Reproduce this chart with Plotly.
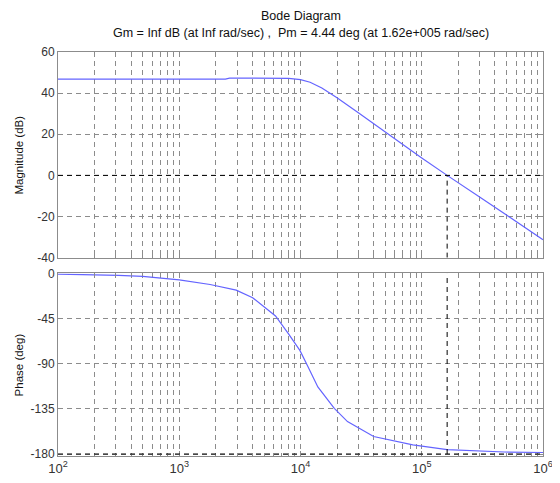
import plotly.graph_objects as go

# ---- data ----
freq_mag = [100, 300, 1000, 2400, 2600, 5000, 8000, 10000, 12000, 15000, 20000,
            30000, 50000, 100000, 162000, 200000, 300000, 500000, 1000000]
mag_db = [46.8, 46.8, 46.8, 46.8, 47.3, 47.3, 47.2, 46.6, 45.3, 42.5, 37.8,
          30.5, 21.0, 8.5, 0.0, -3.5, -10.5, -19.3, -31.3]

freq_phase = [100, 200, 316, 500, 852, 1000, 1795, 2950, 4030, 5160, 6220, 7970,
              9910, 11560, 13900, 19000, 24400, 40100, 84400, 162000, 292000,
              480000, 1000000]
phase_deg = [-0.3, -0.8, -1.4, -2.5, -5.0, -6.0, -10.6, -16.2, -23.8, -33.7, -42.0,
             -60.0, -76.7, -93.0, -113.0, -134.4, -147.6, -162.5, -170.8, -175.6,
             -176.9, -178.0, -178.5]

pm_freq = 162000
mag_ticks = [-40, -20, 0, 20, 40, 60]
mag_labels = ["-40", "-20", "0", "20", "40", "60"]
phase_ticks = [-180, -135, -90, -45, 0]
phase_labels = ["-180", "-135", "-90", "-45", "0"]
decade_ticks = [1e2, 1e3, 1e4, 1e5, 1e6]
decade_labels = ["10<sup>2</sup>", "10<sup>3</sup>", "10<sup>4</sup>", "10<sup>5</sup>", "10<sup>6</sup>"]
minor_ticks = [m * d for d in [1e2, 1e3, 1e4, 1e5] for m in range(2, 10)]

title_line1 = "Bode Diagram"
title_line2 = "Gm = Inf dB (at Inf rad/sec) ,  Pm = 4.44 deg (at 1.62e+005 rad/sec)"

FONT = "Liberation Sans, Arial, sans-serif"
GRID = "#8c8c8c"
DASH = "5px,4px"
FRAME = "#8c8c8c"
LINE = "#6464ff"

fig = go.Figure()
fig.add_trace(go.Scatter(x=freq_mag, y=mag_db, mode="lines",
                         line=dict(color=LINE, width=1.2), xaxis="x", yaxis="y",
                         showlegend=False))
fig.add_trace(go.Scatter(x=freq_phase, y=phase_deg, mode="lines",
                         line=dict(color=LINE, width=1.2), xaxis="x2", yaxis="y2",
                         showlegend=False))

common_x = dict(type="log", range=[2, 6], showline=True, linecolor=FRAME, linewidth=1,
                mirror="allticks", ticks="inside", ticklen=5, tickcolor=FRAME,
                showgrid=True, gridcolor=GRID, griddash=DASH, gridwidth=1,
                zeroline=False, ticklabeloverflow="allow",
                minor=dict(tickvals=minor_ticks, showgrid=True, gridcolor=GRID,
                           griddash=DASH, ticks="inside", ticklen=3, tickcolor=FRAME))
common_y = dict(showline=True, linecolor=FRAME, linewidth=1, mirror="allticks",
                ticks="inside", ticklen=5, tickcolor=FRAME, showgrid=True,
                gridcolor=GRID, griddash=DASH, zeroline=False,
                tickfont=dict(family=FONT, size=12, color="#333333"))

# the page body has an 8px margin, so the figure is sized/offset to compensate
fig.update_layout(
    width=552, height=475,
    margin=dict(l=50, r=7, t=44, b=26),
    plot_bgcolor="white", paper_bgcolor="white",
    font=dict(family=FONT, size=12, color="#222222"),
    xaxis=dict(common_x, anchor="y", domain=[0, 1], showticklabels=False),
    xaxis2=dict(common_x, anchor="y2", domain=[0, 1], tickvals=decade_ticks,
                ticktext=decade_labels, tickfont=dict(family=FONT, size=13, color="#333333")),
    yaxis=dict(common_y, anchor="x", domain=[0.491, 1], range=[-40, 60],
               tickvals=mag_ticks, ticktext=mag_labels),
    yaxis2=dict(common_y, anchor="x2", domain=[0, 0.452], range=[-182, 0.5],
                tickvals=phase_ticks, ticktext=phase_labels),
)

# darker reference lines (0 dB, -180 deg, crossover frequency)
fig.add_shape(type="line", xref="x domain", yref="y", x0=0, x1=1, y0=0, y1=0,
              line=dict(color="black", width=1, dash=DASH))
fig.add_shape(type="line", xref="x2 domain", yref="y2", x0=0, x1=1, y0=-180, y1=-180,
              line=dict(color="black", width=1, dash=DASH))
fig.add_shape(type="line", xref="x", yref="y", x0=pm_freq, x1=pm_freq, y0=-40, y1=0,
              line=dict(color="black", width=1, dash=DASH))
fig.add_shape(type="line", xref="x2", yref="y2", x0=pm_freq, x1=pm_freq, y0=-180, y1=0,
              line=dict(color="black", width=1, dash=DASH))

fig.add_annotation(text=title_line1, xref="paper", yref="paper", x=0.5, y=1,
                   yshift=36, showarrow=False, xanchor="center", yanchor="middle",
                   font=dict(family=FONT, size=12.5, color="#111111"))
fig.add_annotation(text=title_line2, xref="paper", yref="paper", x=0.5, y=1,
                   yshift=19, showarrow=False, xanchor="center", yanchor="middle",
                   font=dict(family=FONT, size=12.5, color="#111111"))
fig.add_annotation(text="Magnitude (dB)", xref="paper", yref="paper", x=-0.081,
                   y=(0.491 + 1) / 2, textangle=-90, showarrow=False,
                   xanchor="center", yanchor="middle",
                   font=dict(family=FONT, size=11.5, color="#111111"))
fig.add_annotation(text="Phase (deg)", xref="paper", yref="paper", x=-0.081,
                   y=0.452 / 2, textangle=-90, showarrow=False,
                   xanchor="center", yanchor="middle",
                   font=dict(family=FONT, size=11.5, color="#111111"))

fig.write_html("out.html")
